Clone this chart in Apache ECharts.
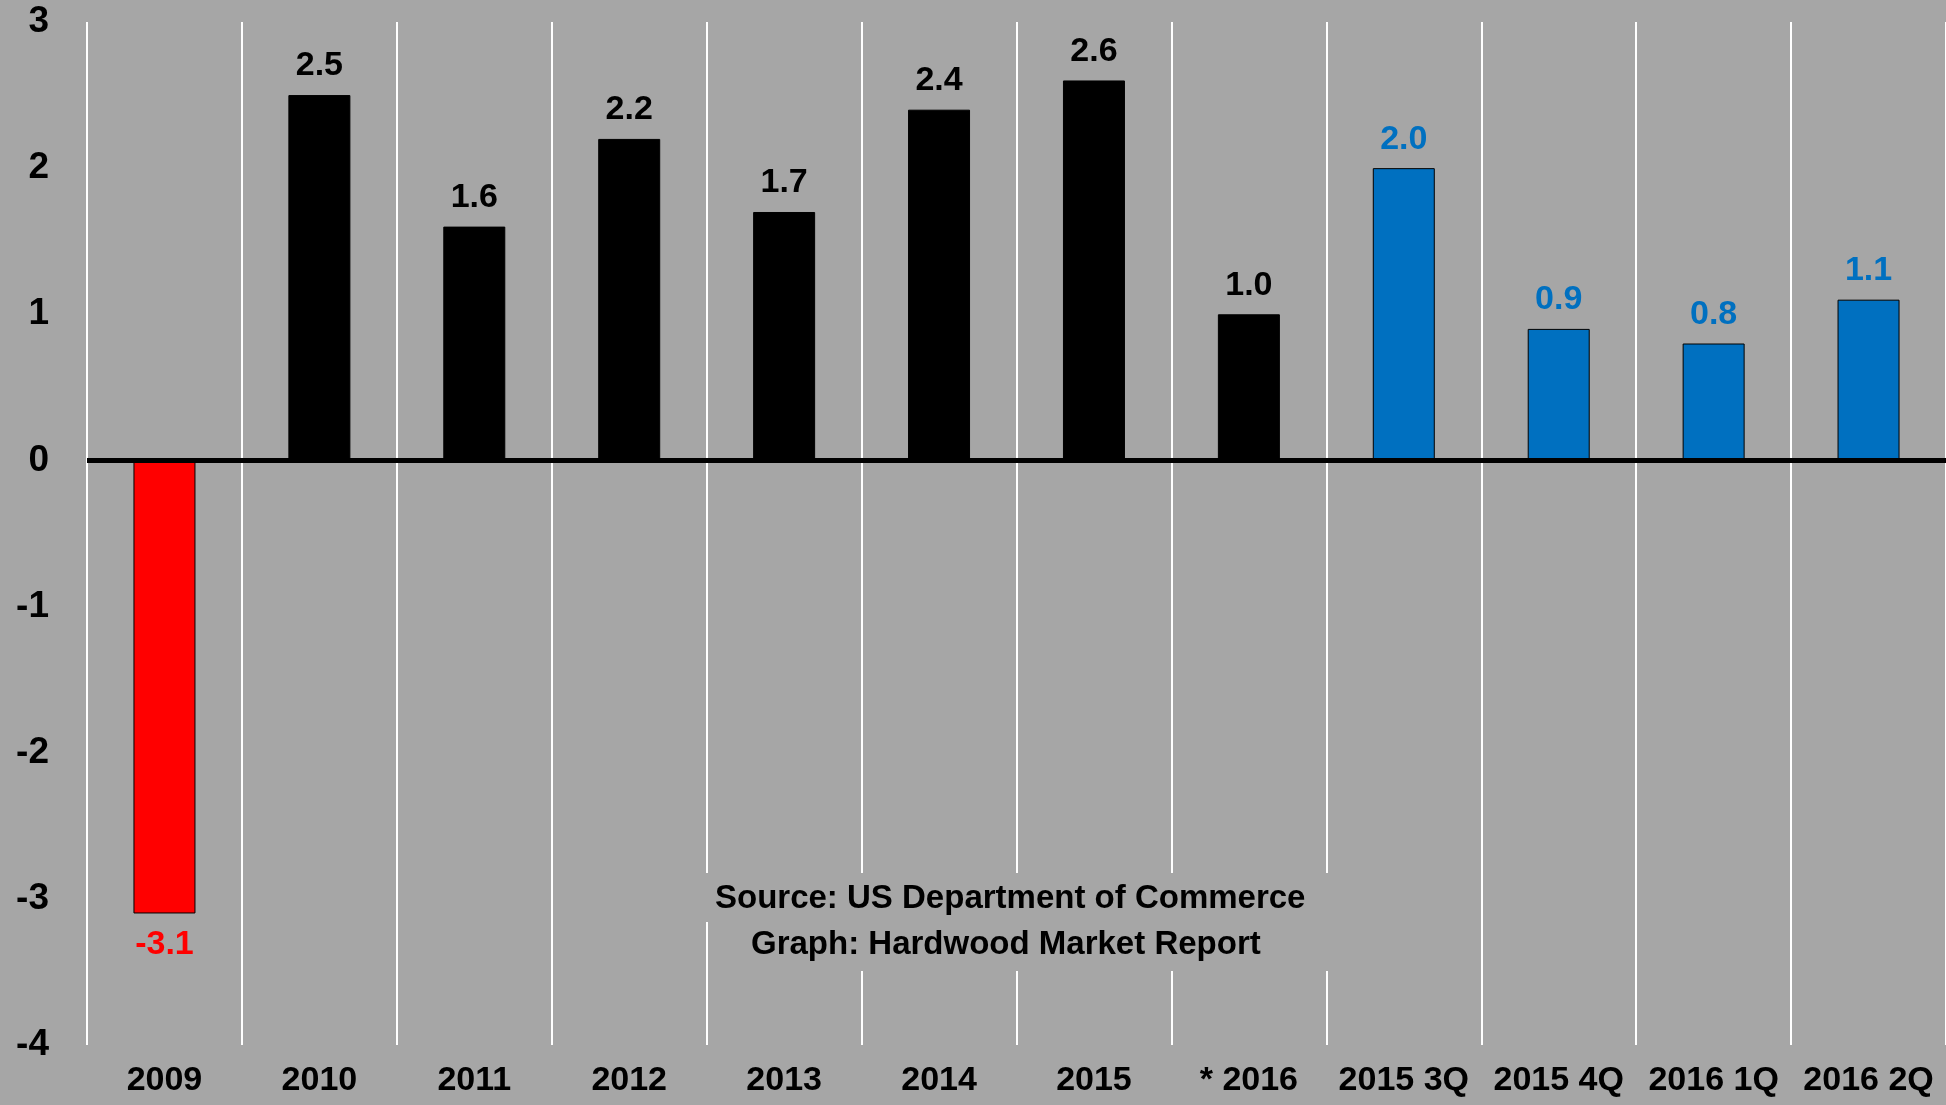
<!DOCTYPE html>
<html>
<head>
<meta charset="utf-8">
<script src="https://cdn.jsdelivr.net/npm/echarts@6/dist/echarts.min.js"></script>
<style>
  html, body { margin: 0; padding: 0; background: #a6a6a6; }
  #chart { width: 1946px; height: 1105px; }
</style>
</head>
<body>
<div id="chart"></div>
<script>
// annual growth first, then the latest quarters
const categories = ['2009', '2010', '2011', '2012', '2013', '2014', '2015', '* 2016',
  '2015 3Q', '2015 4Q', '2016 1Q', '2016 2Q'];
const values = [-3.1, 2.5, 1.6, 2.2, 1.7, 2.4, 2.6, 1.0, 2.0, 0.9, 0.8, 1.1];
const periods = ['year', 'year', 'year', 'year', 'year', 'year', 'year', 'year',
  'quarter', 'quarter', 'quarter', 'quarter'];
const yTicks = { min: -4, max: 3, step: 1 };
const sourceLines = ['Source: US Department of Commerce', 'Graph: Hardwood Market Report'];

const FONT = '"Liberation Sans", Arial, sans-serif';

function barColor(v, i) {
  if (v < 0) return '#ff0000';
  return periods[i] === 'quarter' ? '#0070c0' : '#000000';
}

let myChart = echarts.init(document.getElementById('chart'));

let options = {
  backgroundColor: '#a6a6a6',
  animation: false,
  grid: { left: 87, right: 0, top: 22, bottom: 60 },
  xAxis: {
    type: 'category',
    data: categories,
    axisLine: { show: false, onZero: false },
    axisTick: { show: false },
    axisLabel: {
      margin: 19,
      color: '#000',
      fontFamily: FONT,
      fontWeight: 'bold',
      fontSize: 34,
      interval: 0,
    },
    splitLine: { show: true, lineStyle: { color: '#ffffff', width: 2 } },
  },
  yAxis: {
    type: 'value',
    min: yTicks.min,
    max: yTicks.max,
    interval: yTicks.step,
    axisLine: { show: false },
    axisTick: { show: false },
    splitLine: { show: false },
    axisLabel: {
      margin: 38,
      color: '#000',
      fontFamily: FONT,
      fontWeight: 'bold',
      fontSize: 37,
    },
  },
  // source note sits on a grey box that hides the grid lines behind it
  graphic: sourceLines.map((t, i) => ({
    type: 'text',
    left: i === 0 ? 703 : 741,
    top: i === 0 ? 873 : 922,
    z: 10,
    style: {
      text: t,
      font: 'bold 33px ' + FONT,
      fill: '#000',
      backgroundColor: '#a6a6a6',
      padding: i === 0 ? [9, 28, 7, 12] : [6, 72, 10, 10],
    },
  })),
  series: [
    {
      type: 'bar',
      barWidth: 62,
      data: values.map((v, i) => ({
        value: v,
        itemStyle: { color: barColor(v, i), borderColor: '#000', borderWidth: 1 },
        label: {
          show: true,
          position: v < 0 ? 'bottom' : 'top',
          distance: v < 0 ? 14 : 12,
          color: barColor(v, i),
          fontFamily: FONT,
          fontWeight: 'bold',
          fontSize: 34,
          formatter: (p) => p.value.toFixed(1),
        },
      })),
      markLine: {
        silent: true,
        symbol: ['none', 'none'],
        label: { show: false },
        lineStyle: { color: '#000', width: 5, type: 'solid' },
        data: [{ yAxis: 0 }],
      },
    },
  ],
};
myChart.setOption(options);
</script>
</body>
</html>
